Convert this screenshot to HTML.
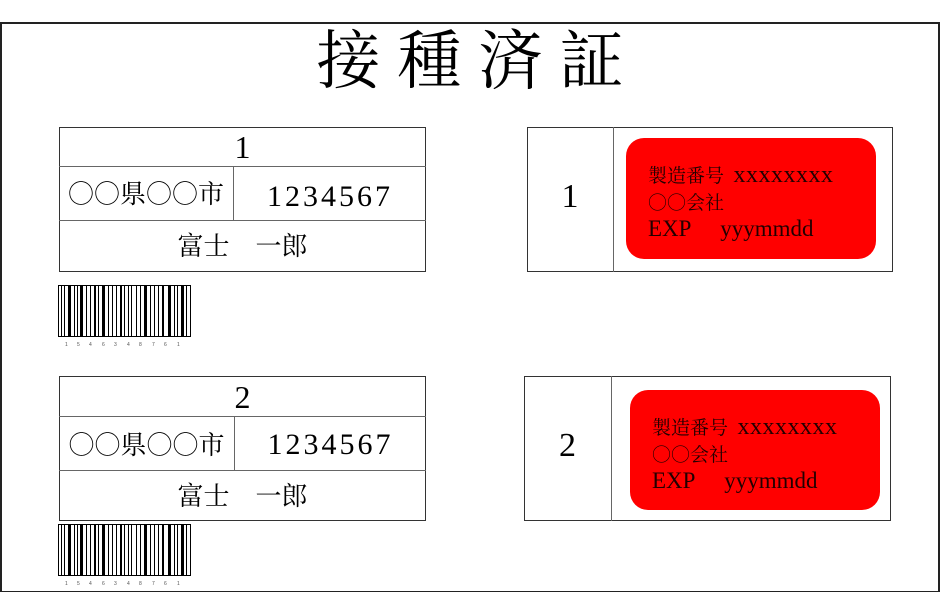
<!DOCTYPE html>
<html><head><meta charset="utf-8"><style>
body{margin:0;width:940px;height:592px;background:#fff;position:relative;overflow:hidden;font-family:"Liberation Serif","Noto Serif CJK SC",serif;}
.a{position:absolute;box-sizing:border-box;}
.box{border:1px solid #333;}
.t{position:absolute;text-align:center;white-space:nowrap;color:#000;}
.c{font-family:"Noto Sans CJK JP",sans-serif;font-weight:300;}
.n{letter-spacing:3px;}
.red{background:#f00;border-radius:18px;position:absolute;font-size:19px;line-height:25px;padding:0 0 0 22px;box-sizing:border-box;color:#200;white-space:nowrap;}
.red .x{font-size:24px;letter-spacing:0.5px;}
.red .l{font-size:23px;}
</style></head><body>
<div class="a" style="left:0;top:22px;width:940px;height:570px;border:2px solid #222;border-bottom-width:1px;"></div>
<div class="t" style="left:0;width:940px;top:20px;font-size:64px;line-height:84px;letter-spacing:17px;text-indent:17px;">接種済証</div>

<!-- left card 1 -->
<div class="a box" style="left:59px;top:127px;width:367px;height:145px;"></div>
<div class="a" style="left:59px;top:166px;width:367px;height:1px;background:#666"></div>
<div class="a" style="left:59px;top:220px;width:367px;height:1px;background:#666"></div>
<div class="a" style="left:233px;top:166px;width:1px;height:54px;background:#666"></div>
<div class="t" style="left:59px;width:367px;top:127px;line-height:40px;font-size:32px;">1</div>
<div class="t" style="left:59px;width:174px;top:166px;line-height:54px;font-size:26px;"><span class="c">○○</span>県<span class="c">○○</span>市</div>
<div class="t n" style="left:234px;width:192px;top:166px;line-height:62px;font-size:30px;">1234567</div>
<div class="t" style="left:59px;width:367px;top:221px;line-height:52px;font-size:26px;">富士　一郎</div>

<!-- left card 2 -->
<div class="a box" style="left:59px;top:376px;width:367px;height:145px;"></div>
<div class="a" style="left:59px;top:416px;width:367px;height:1px;background:#666"></div>
<div class="a" style="left:59px;top:470px;width:367px;height:1px;background:#666"></div>
<div class="a" style="left:234px;top:416px;width:1px;height:54px;background:#666"></div>
<div class="t" style="left:59px;width:367px;top:377px;line-height:40px;font-size:32px;">2</div>
<div class="t" style="left:59px;width:175px;top:416px;line-height:56px;font-size:26px;"><span class="c">○○</span>県<span class="c">○○</span>市</div>
<div class="t n" style="left:235px;width:191px;top:416px;line-height:58px;font-size:30px;">1234567</div>
<div class="t" style="left:59px;width:367px;top:471px;line-height:52px;font-size:26px;">富士　一郎</div>

<!-- barcodes -->
<svg class="a" style="left:58px;top:285px" width="134" height="64">
<g id="bc">
<rect x="0.5" y="0.5" width="132" height="51" fill="none" stroke="#000"/>
<g fill="#000">
<rect x="3" y="0" width="1" height="52"/><rect x="6" y="0" width="1" height="52"/><rect x="10" y="0" width="3" height="52"/><rect x="16" y="0" width="1" height="52"/><rect x="19" y="0" width="1" height="52"/><rect x="22" y="0" width="3" height="52"/><rect x="28" y="0" width="1" height="52"/><rect x="32" y="0" width="1" height="52"/><rect x="36" y="0" width="2" height="52"/><rect x="40" y="0" width="1" height="52"/><rect x="44" y="0" width="3" height="52"/><rect x="50" y="0" width="1" height="52"/><rect x="54" y="0" width="1" height="52"/><rect x="58" y="0" width="1" height="52"/><rect x="62" y="0" width="2" height="52"/><rect x="66" y="0" width="1" height="52"/><rect x="70" y="0" width="1" height="52"/><rect x="73" y="0" width="1" height="52"/><rect x="78" y="0" width="1" height="52"/><rect x="82" y="0" width="1" height="52"/><rect x="86" y="0" width="3" height="52"/><rect x="92" y="0" width="1" height="52"/><rect x="96" y="0" width="1" height="52"/><rect x="100" y="0" width="1" height="52"/><rect x="104" y="0" width="2" height="52"/><rect x="110" y="0" width="3" height="52"/><rect x="116" y="0" width="1" height="52"/><rect x="119" y="0" width="1" height="52"/><rect x="123" y="0" width="3" height="52"/><rect x="128" y="0" width="1" height="52"/>
</g>
<text y="61" font-size="5" font-family="Liberation Sans" fill="#555">
<tspan x="7">1</tspan><tspan x="19">5</tspan><tspan x="31">4</tspan><tspan x="44">6</tspan><tspan x="56">3</tspan><tspan x="69">4</tspan><tspan x="81">8</tspan><tspan x="94">7</tspan><tspan x="106">6</tspan><tspan x="119">1</tspan>
</text>
</g>
</svg>
<svg class="a" style="left:58px;top:524px" width="134" height="64"><use href="#bc"/></svg>

<!-- right card 1 -->
<div class="a box" style="left:527px;top:127px;width:366px;height:145px;"></div>
<div class="a" style="left:613px;top:127px;width:1px;height:145px;background:#666"></div>
<div class="t" style="left:527px;width:86px;top:127px;line-height:140px;font-size:34px;">1</div>
<div class="red" style="left:626px;top:138px;width:250px;height:121px;padding-top:25px;">製造番号&nbsp;&nbsp;<span class="x">xxxxxxxx</span><br><span class="c">○○</span>会社<br><span class="l">EXP&nbsp;&nbsp;&nbsp;&nbsp;&nbsp;yyymmdd</span></div>

<!-- right card 2 -->
<div class="a box" style="left:524px;top:376px;width:367px;height:145px;"></div>
<div class="a" style="left:611px;top:376px;width:1px;height:145px;background:#666"></div>
<div class="t" style="left:524px;width:87px;top:376px;line-height:140px;font-size:34px;">2</div>
<div class="red" style="left:630px;top:390px;width:250px;height:120px;padding-top:25px;">製造番号&nbsp;&nbsp;<span class="x">xxxxxxxx</span><br><span class="c">○○</span>会社<br><span class="l">EXP&nbsp;&nbsp;&nbsp;&nbsp;&nbsp;yyymmdd</span></div>
</body></html>
